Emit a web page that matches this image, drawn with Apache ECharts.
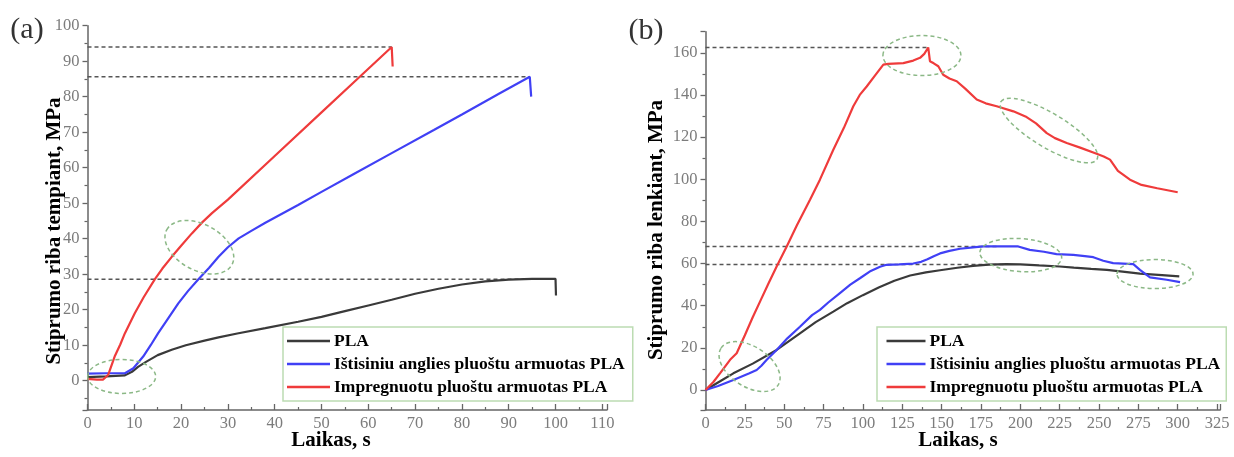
<!DOCTYPE html>
<html>
<head>
<meta charset="utf-8">
<script src="https://cdn.jsdelivr.net/npm/echarts@6/dist/echarts.min.js"></script>
<style>
html,body{margin:0;padding:0;background:#fff;}
#chart{width:1234px;height:457px;}
</style>
</head>
<body>
<div id="chart"></div>
<script>
// ---------- DATA ----------
const seriesNames = ['PLA', 'Ištisiniu anglies pluoštu armuotas PLA', 'Impregnuotu pluoštu armuotas PLA'];

// (a) tensile: time [s], stress [MPa]
const leftPLA = [[0,1],[4,1.2],[8,1.5],[9.5,2.5],[10.8,3.9],[12.5,5.3],[15,7.2],[18,8.7],[21,10],[25,11.3],[28,12.2],[32,13.3],[38,14.8],[45,16.6],[50,18],[55,19.6],[60,21.2],[65,22.8],[70,24.5],[75,25.9],[80,27.1],[85,28],[90,28.5],[95,28.7],[100,28.7],[100.1,24]];
const leftCF = [[0,2],[4,2.1],[8,2.1],[9.8,3.5],[11.9,6.8],[13.5,10],[15.1,13.4],[17.2,17.5],[19.4,21.8],[21.5,25.3],[23.7,28.6],[26,31.8],[28,34.9],[30,37.6],[32.3,40.1],[35,42.2],[38,44.5],[45,49.5],[50,53.2],[57,58.3],[65,64.1],[74,70.6],[80,75],[88,80.9],[94.5,85.6],[94.8,80]];
const leftIMP = [[0,0.5],[2,0.3],[3.3,0.3],[4.4,1.6],[5.8,6.8],[7,10.2],[8,13.4],[10.1,19],[12,23.5],[14.4,28.6],[16,31.6],[18,34.9],[20,38],[22.3,41.5],[24.5,44.6],[26.6,47.2],[30,51],[40,63.3],[50,75.6],[58,85.4],[65,94],[65.2,88.5]];
const leftRefLines = [[[0,94],[65,94]], [[0,85.6],[94.5,85.6]], [[0,28.6],[100,28.6]]];
const leftMarks = [[7.3,1.2],[23.9,37.6]];

// (b) flexural: time [s], stress [MPa]
const rightPLA = [[0,0],[9,4],[17.7,7.9],[30,12.5],[45.2,19],[60,26.9],[70,32.2],[81.2,37.2],[90,41.2],[100,45],[110,48.6],[120,51.8],[130,54.3],[140,55.8],[149,56.8],[160,58],[170,58.9],[180,59.5],[191,59.7],[200,59.6],[212,59.1],[225,58.6],[234,58.1],[245,57.5],[255,57],[265,56.2],[276,55.2],[290,54.5],[301,53.9]];
const rightCF = [[0,0],[8,1.9],[17.7,4.75],[27.9,7.9],[32.5,9.5],[35.5,11.5],[38.9,14.3],[45.2,19],[52,24.5],[60,30],[67.7,35.5],[72.7,38],[78,41.5],[85.4,46],[92,50],[98.1,53],[105,56.5],[110.9,58.5],[115,59.4],[123,59.6],[132,60],[137,60.8],[141,62],[145,63.5],[149,64.8],[155,66],[161.7,67],[170,67.7],[176.5,68.1],[198.7,68.1],[206,66.5],[215,65.6],[223,64.5],[233.7,64.1],[241,63.5],[246.4,63],[252.7,61.3],[259,60.2],[271.8,59.7],[276,57],[282.4,53.4],[293,52.3],[301.5,51.2]];
const rightIMP = [[0,0],[5,3.8],[9.2,7.9],[15.6,14.3],[19.8,17.4],[25,26],[30,34.5],[35,42.5],[40,50.5],[45.2,58.6],[51.6,68.1],[58,78],[66.4,90.3],[72.7,99.8],[81.2,114],[88,124.5],[93.9,134.6],[98,140],[102.4,144],[108,149.5],[113,154.4],[116.1,154.7],[125.7,155.1],[132,156.3],[136.3,157.6],[139,159.5],[141.5,162.5],[142.6,156],[145,155],[147.9,153.6],[151,149.6],[155,147.8],[159.6,146.5],[165,143],[172.3,137.8],[178,136],[185,134.6],[195.6,132.2],[204,129.5],[210,126.5],[216.8,121.9],[222,119.5],[229.5,117.2],[238,115],[248.5,112.1],[253,110.8],[257,109.3],[262,104],[269.7,99.8],[277,97.3],[287,95.7],[300,93.8]];
const rightRefLines = [[[0,162.5],[141.5,162.5]], [[0,68.1],[185,68.1]], [[0,59.5],[190,59.5]]];
const rightMarks = [[137.5,158.7],[218.2,123.1],[28,11.1],[200.3,64],[285.6,55]];

// ---------- STYLE ----------
const leftMarkShapes = [{rx:34,ry:17,rot:0},{rx:37,ry:23,rot:-28}];
const rightMarkShapes = [{rx:39,ry:20,rot:0},{rx:56,ry:17,rot:-31},{rx:34,ry:20,rot:-33},{rx:41,ry:16.5,rot:-4},{rx:38,ry:14.5,rot:0}];
const colors = ['#3a3a3a', '#4040f5', '#ef3b3b'];
const SERIF = '"Liberation Serif","Times New Roman",serif';
const axisColor = '#666';
const labelColor = '#7c7c7c';

function ellipseRenderer(shapes){
  return function(params, api){
    const c = api.coord([api.value(0), api.value(1)]);
    const s = shapes[params.dataIndex];
    return {
      type: 'ellipse',
      x: c[0], y: c[1],
      rotation: s.rot * Math.PI / 180,
      shape: {cx: 0, cy: 0, rx: s.rx, ry: s.ry},
      style: {fill: 'none', stroke: '#8bb886', lineWidth: 1.5, lineDash: [4, 3]}
    };
  };
}

function xAxisCfg(gridIndex, max, interval){
  return {
    type: 'value', gridIndex, min: 0, max, interval,
    axisLine: {show: true, onZero: false, lineStyle: {color: axisColor, width: 1.5}},
    axisTick: {show: true, inside: true, length: 6, lineStyle: {color: axisColor, width: 1.3}},
    minorTick: {show: true, splitNumber: 2, length: 3, lineStyle: {color: axisColor, width: 1.2}},
    splitLine: {show: false},
    axisLabel: {color: labelColor, fontFamily: SERIF, fontSize: 16.5, margin: 5,
      formatter: v => (Math.abs(v % interval) < 1e-6 ? String(v) : '')}
  };
}
function yAxisCfg(gridIndex, min, max, splitNumber, step){
  return {
    type: 'value', gridIndex, min, max, splitNumber,
    axisLine: {show: true, onZero: false, lineStyle: {color: axisColor, width: 1.5}},
    axisTick: {show: true, inside: false, length: 5, lineStyle: {color: axisColor, width: 1.3}},
    minorTick: {show: true, splitNumber: 2, length: 3, lineStyle: {color: axisColor, width: 1.2}},
    splitLine: {show: false},
    axisLabel: {color: labelColor, fontFamily: SERIF, fontSize: 16.5, margin: 8,
      formatter: v => (Math.abs(v % step) < 1e-6 ? String(v) : '')}
  };
}

function curve(name, data, idx, color){
  return {name, type: 'line', xAxisIndex: idx, yAxisIndex: idx, data, symbol: 'none',
    lineStyle: {color, width: 2.2}, itemStyle: {color}, z: 3, animation: false};
}
function refLine(data, idx){
  return {type: 'line', xAxisIndex: idx, yAxisIndex: idx, data, symbol: 'none', silent: true,
    lineStyle: {color: '#555', width: 1.5, type: [4, 3]}, z: 2, animation: false};
}

const series = [];
leftRefLines.forEach(d => series.push(refLine(d, 0)));
rightRefLines.forEach(d => series.push(refLine(d, 1)));
series.push(curve(seriesNames[0], leftPLA, 0, colors[0]));
series.push(curve(seriesNames[1], leftCF, 0, colors[1]));
series.push(curve(seriesNames[2], leftIMP, 0, colors[2]));
series.push(curve(seriesNames[0], rightPLA, 1, colors[0]));
series.push(curve(seriesNames[1], rightCF, 1, colors[1]));
series.push(curve(seriesNames[2], rightIMP, 1, colors[2]));
series.push({type: 'custom', xAxisIndex: 0, yAxisIndex: 0, data: leftMarks, renderItem: ellipseRenderer(leftMarkShapes), clip: false, silent: true, z: 4, animation: false});
series.push({type: 'custom', xAxisIndex: 1, yAxisIndex: 1, data: rightMarks, renderItem: ellipseRenderer(rightMarkShapes), clip: false, silent: true, z: 4, animation: false});

function legendCfg(left, itemWidth, padding){
  return {
    data: seriesNames, orient: 'vertical', left, top: 327,
    icon: 'rect', itemWidth, itemHeight: 2.6, itemGap: 5,
    padding, borderColor: '#bcdcb2', borderWidth: 1.5, backgroundColor: '#fff',
    selectedMode: false,
    textStyle: {fontFamily: SERIF, fontWeight: 'bold', fontSize: 17.5, color: '#000', padding: [0,0,0,-1]},
    z: 10
  };
}

const chart = echarts.init(document.getElementById('chart'), null, {renderer: 'canvas'});
chart.setOption({
  backgroundColor: '#fff',
  animation: false,
  grid: [
    {left: 87.5, top: 25.7, width: 519.5, height: 384.3, containLabel: false, outerBoundsMode: 'none'},
    {left: 705.5, top: 31.7, width: 514.7, height: 378.3, containLabel: false, outerBoundsMode: 'none'}
  ],
  xAxis: [xAxisCfg(0, 111, 10), xAxisCfg(1, 327, 25)],
  yAxis: [yAxisCfg(0, -8.25, 100, 10, 10), yAxisCfg(1, -9.5, 170, 9, 20)],
  legend: [legendCfg(283, 43, [5, 8, 5, 4]), legendCfg(877, 39, [5, 6, 5, 9.5])],
  graphic: [
    {type: 'text', x: 27, y: 30, style: {text: '(a)', font: '30px ' + SERIF, fill: '#333', textAlign: 'center', textVerticalAlign: 'middle'}},
    {type: 'text', x: 646, y: 31, style: {text: '(b)', font: '30px ' + SERIF, fill: '#333', textAlign: 'center', textVerticalAlign: 'middle'}},
    {type: 'text', x: 55, y: 231, rotation: Math.PI / 2, style: {text: 'Stiprumo riba tempiant, MPa', font: 'bold 21px ' + SERIF, fill: '#000', textAlign: 'center', textVerticalAlign: 'middle'}},
    {type: 'text', x: 657, y: 230, rotation: Math.PI / 2, style: {text: 'Stiprumo riba lenkiant, MPa', font: 'bold 21px ' + SERIF, fill: '#000', textAlign: 'center', textVerticalAlign: 'middle'}},
    {type: 'text', x: 331, y: 441, style: {text: 'Laikas, s', font: 'bold 21px ' + SERIF, fill: '#000', textAlign: 'center', textVerticalAlign: 'middle'}},
    {type: 'text', x: 958, y: 441, style: {text: 'Laikas, s', font: 'bold 21px ' + SERIF, fill: '#000', textAlign: 'center', textVerticalAlign: 'middle'}}
  ],
  series
});
</script>
</body>
</html>
